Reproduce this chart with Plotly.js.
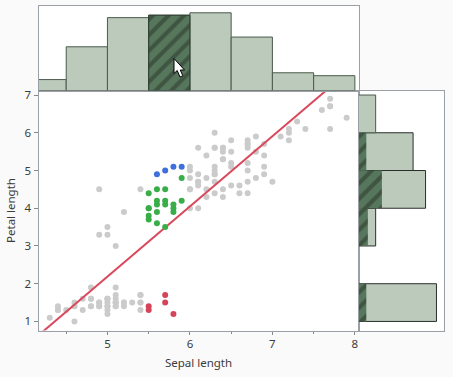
<!DOCTYPE html>
<html><head><meta charset="utf-8">
<script src="https://cdn.plot.ly/plotly-3.0.1.min.js"></script>
<style>html,body{margin:0;padding:0;background:#fafafa;overflow:hidden}</style>
</head><body><div id="chart" style="width:453px;height:377px"></div>
<script>
// Grey (unselected) points: sepal length / petal length
const greyX = [5.1,4.9,4.7,4.6,5.0,5.4,4.6,5.0,4.4,4.9,5.4,4.8,4.8,4.3,5.4,5.1,5.1,5.4,5.1,4.6,5.1,4.8,5.0,5.0,5.2,5.2,4.7,4.8,5.4,5.2,4.9,5.0,4.9,4.4,5.1,5.0,4.5,4.4,5.0,5.1,4.8,5.1,4.6,5.3,5.0,
7.0,6.4,6.9,6.5,6.3,4.9,6.6,5.2,5.0,6.0,6.1,6.7,6.2,6.1,6.3,6.1,6.4,6.6,6.8,6.7,6.0,6.0,5.4,6.0,6.7,6.3,6.1,5.0,6.2,5.1,
6.3,7.1,6.3,6.5,7.6,4.9,7.3,6.7,7.2,6.5,6.4,6.8,6.4,6.5,7.7,7.7,6.0,6.9,7.7,6.3,6.7,7.2,6.2,6.1,6.4,7.2,7.4,7.9,6.4,6.3,6.1,7.7,6.3,6.4,6.0,6.9,6.7,6.9,6.8,6.7,6.7,6.3,6.5,6.2];
const greyY = [1.4,1.4,1.3,1.5,1.4,1.7,1.4,1.5,1.4,1.5,1.5,1.6,1.4,1.1,1.3,1.4,1.5,1.7,1.5,1.0,1.7,1.9,1.6,1.6,1.5,1.4,1.6,1.6,1.5,1.5,1.5,1.2,1.4,1.3,1.5,1.3,1.3,1.3,1.6,1.9,1.4,1.6,1.4,1.5,1.4,
4.7,4.5,4.9,4.6,4.7,3.3,4.6,3.9,3.5,4.0,4.7,4.4,4.5,4.0,4.9,4.7,4.3,4.4,4.8,5.0,4.5,5.1,4.5,4.5,4.7,4.4,4.6,3.3,4.3,3.0,
6.0,5.9,5.6,5.8,6.6,4.5,6.3,5.8,6.1,5.1,5.3,5.5,5.3,5.5,6.7,6.9,5.0,5.7,6.7,4.9,5.7,6.0,4.8,4.9,5.6,5.8,6.1,6.4,5.6,5.1,5.6,6.1,5.6,5.5,4.8,5.4,5.6,5.1,5.9,5.7,5.2,5.0,5.2,5.4];
const redX = [5.8,5.7,5.7,5.5,5.5];
const redY = [1.2,1.5,1.7,1.4,1.3];
const greenX = [5.5,5.7,5.9,5.6,5.6,5.8,5.6,5.9,5.7,5.5,5.5,5.8,5.6,5.5,5.5,5.8,5.6,5.7,5.7];
const greenY = [4.0,4.5,4.2,3.6,4.5,4.1,3.9,4.8,3.5,3.8,3.7,3.9,4.1,4.0,4.4,4.0,4.2,4.2,4.1];
const blueX = [5.8,5.7,5.6,5.9];
const blueY = [5.1,5.0,4.9,5.1];
// Fit line end points
const fitX = [4.2,7.7];
const fitY = [0.70,7.21];
// Sepal length histogram
const sepalBins = [4.25,4.75,5.25,5.75,6.25,6.75,7.25,7.75];
const sepalAll = [4.5,18,30,31,32,22,7.3,6.1];
const sepalSelBin = [5.75];
const sepalSel = [31];
// Petal length histogram
const petalBins = [1.5,3.5,4.5,5.5,6.5];
const petalAll = [50,11,43,35,11];
const petalSelBin = [1.5,3.5,4.5,5.5];
const petalSel = [5,6,15,5];

const W=453,H=377;
const L=38.5,R=358.5,RH=443.5,T=5.5,M=90.5,B=330.5;
const fx=p=>p/W, fy=p=>1-p/H;
const frame='#9aa0a6', barFill='#bbcabb', hatch={shape:'/',bgcolor:'#56775c',fgcolor:'#3f5542',size:11,solidity:0.38,fillmode:'replace'};
const font={family:'"Noto Sans", "Open Sans", sans-serif',size:11.5,color:'#3c3c3c'};
const pts=(x,y,c)=>({type:'scatter',mode:'markers',x,y,xaxis:'x',yaxis:'y',marker:{size:6,color:c,line:{width:0}},cliponaxis:true,showlegend:false,hoverinfo:'skip'});

const traces=[
 {type:'bar',x:sepalBins,y:sepalAll,width:0.5,xaxis:'x2',yaxis:'y2',marker:{color:barFill,line:{color:'#4b5a4d',width:1}},showlegend:false,hoverinfo:'skip'},
 {type:'bar',x:sepalSelBin,y:sepalSel,width:0.5,xaxis:'x2',yaxis:'y2',marker:{color:'#56775c',pattern:hatch,line:{color:'#2c3a2e',width:1}},showlegend:false,hoverinfo:'skip'},
 {type:'bar',orientation:'h',y:petalBins,x:petalAll,width:1,xaxis:'x3',yaxis:'y3',marker:{color:barFill,line:{color:['#2a2f2b','#2a2f2b','#2a2f2b','#2a2f2b','#4b5a4d'],width:1}},showlegend:false,hoverinfo:'skip'},
 {type:'bar',orientation:'h',y:petalSelBin,x:petalSel,width:1,xaxis:'x3',yaxis:'y3',marker:{color:'#56775c',pattern:hatch,line:{width:0}},showlegend:false,hoverinfo:'skip'},
 pts(greyX,greyY,'#cbcbcb'),
 {type:'scatter',mode:'lines',x:fitX,y:fitY,xaxis:'x',yaxis:'y',line:{color:'#d9485c',width:2},showlegend:false,hoverinfo:'skip'},
 pts(redX,redY,'#d5455a'),
 pts(greenX,greenY,'#39ad48'),
 pts(blueX,blueY,'#3f6fdc')
];
const arrowPx=[[174,58.5],[174,73.5],[177.2,70.5],[180,77],[182.8,75.7],[180.3,70],[184.5,70]];
const arrowPath='M'+arrowPx.map(p=>fx(p[0])+','+fy(p[1])).join(' L')+' Z';
const layout={
 width:W,height:H,margin:{l:0,r:0,t:0,b:0},paper_bgcolor:'#fafafa',plot_bgcolor:'#fff',font,barmode:'overlay',showlegend:false,
 xaxis:{domain:[fx(L),fx(R)],range:[4.164,8.044],anchor:'y',tickvals:[5,6,7,8],ticks:'outside',ticklen:3,tickcolor:'#888',tickfont:font,
   minor:{tickvals:[4.5,5.5,6.5,7.5],ticks:'outside',ticklen:2,tickcolor:'#888'},showgrid:false,zeroline:false,showline:true,linecolor:frame,linewidth:1,mirror:true,
   title:{text:'Sepal length',font,standoff:8}},
 yaxis:{domain:[fy(B),fy(M)],range:[0.76,7.12],anchor:'x',tickvals:[1,2,3,4,5,6,7],ticks:'outside',ticklen:4,tickcolor:'#888',tickfont:font,showgrid:false,zeroline:false,showline:true,linecolor:frame,linewidth:1,mirror:true,
   title:{text:'Petal length',font,standoff:6}},
 xaxis2:{domain:[fx(L),fx(R)],range:[4.164,8.044],anchor:'y2',showticklabels:false,ticks:'',showgrid:false,zeroline:false,showline:true,linecolor:frame,linewidth:1,mirror:true},
 yaxis2:{domain:[fy(M),fy(T)],range:[0,35],anchor:'x2',showticklabels:false,ticks:'',showgrid:false,zeroline:false,showline:true,linecolor:frame,linewidth:1,mirror:true},
 xaxis3:{domain:[fx(R),fx(RH)],range:[0,54.5],anchor:'y3',showticklabels:false,ticks:'',showgrid:false,zeroline:false,showline:true,linecolor:frame,linewidth:1,mirror:true},
 yaxis3:{domain:[fy(B),fy(M)],range:[0.76,7.12],anchor:'x3',showticklabels:false,ticks:'',showgrid:false,zeroline:false,showline:true,linecolor:frame,linewidth:1,mirror:true},
 shapes:[{type:'path',xref:'paper',yref:'paper',path:arrowPath,fillcolor:'#fff',line:{color:'#000',width:1},layer:'above'}]
};
Plotly.newPlot('chart',traces,layout,{displayModeBar:false,staticPlot:true});
</script></body></html>
